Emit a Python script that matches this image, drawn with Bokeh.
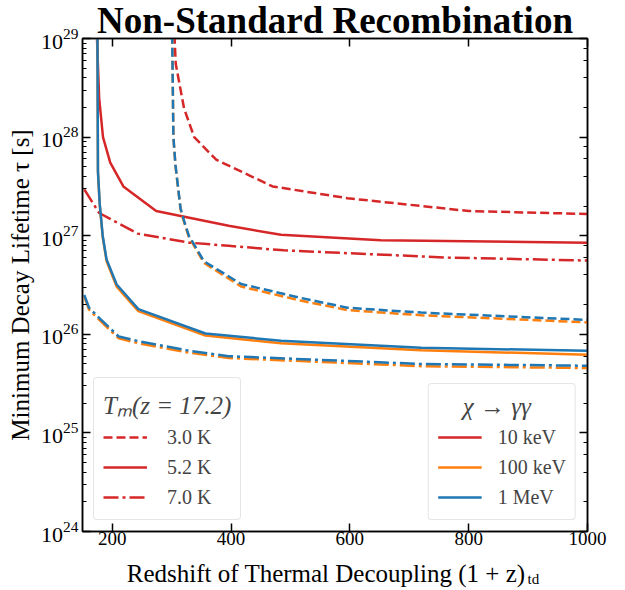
from bokeh.plotting import figure
from bokeh.layouts import column
from bokeh.models import (LinearAxis, LogAxis, FixedTicker, LogTicker, Legend, LegendItem,
                          Label, CustomJSTickFormatter, Range1d)
from bokeh.embed import file_html
from bokeh.resources import INLINE

# ---------------- data ----------------
# chi -> gamma gamma, m = 10 keV (red)
x_10keV_3K = [303, 305, 307, 321, 338, 375, 470, 596, 800, 1000]
tau_10keV_3K = [2e29, 1e29, 5.5e28, 1.95e28, 1.0e28, 5.9e27, 3.16e27, 2.4e27, 1.78e27, 1.66e27]
x_10keV_52K = [173.5, 174.4, 178, 184.5, 196.7, 218.8, 274, 396, 484, 652, 1000]
tau_10keV_52K = [2e29, 1e29, 2.5e28, 1.0e28, 5.5e27, 3.16e27, 1.78e27, 1.26e27, 1.02e27, 9.0e26, 8.5e26]
x_10keV_7K = [153, 178, 243, 330, 396, 489, 765, 1000]
tau_10keV_7K = [2.95e27, 1.7e27, 1.05e27, 8.5e26, 7.9e26, 7.1e26, 6.0e26, 5.6e26]

# m = 100 keV (orange)
x_100keV_3K = [300.5, 302, 303, 306.5, 315, 321, 329, 354.5, 417, 517, 596, 720, 1000]
tau_100keV_3K = [2e29, 3.2e28, 1.0e28, 5.1e27, 1.85e27, 1.37e27, 9.7e26, 5.3e26, 3.05e26, 2.2e26, 1.76e26, 1.56e26, 1.32e26]
x_100keV_52K = [175, 176, 179, 184, 190.5, 207.5, 244, 357, 484, 720, 1000]
tau_100keV_52K = [2e29, 4.4e27, 2.05e27, 9.7e26, 5.5e26, 3.05e26, 1.72e26, 9.7e25, 8.1e25, 6.9e25, 6.2e25]
x_100keV_7K = [153, 161, 181, 211, 245, 330, 396, 720, 1000]
tau_100keV_7K = [2.4e26, 1.78e26, 1.35e26, 9.1e25, 8.1e25, 6.5e25, 5.75e25, 4.75e25, 4.55e25]

# m = 1 MeV (blue)
x_1MeV_3K = [300.5, 302, 303, 306.5, 315, 321, 329, 354.5, 417, 517, 596, 720, 1000]
tau_1MeV_3K = [2e29, 3.2e28, 1.0e28, 5.2e27, 1.9e27, 1.41e27, 1.0e27, 5.5e26, 3.24e26, 2.34e26, 1.86e26, 1.66e26, 1.4e26]
x_1MeV_52K = [175, 176, 179, 184, 190.5, 207.5, 244, 357, 484, 720, 1000]
tau_1MeV_52K = [2e29, 4.5e27, 2.1e27, 1.0e27, 5.75e26, 3.2e26, 1.8e26, 1.02e26, 8.6e25, 7.3e25, 6.8e25]
x_1MeV_7K = [153, 161, 181, 211, 245, 330, 396, 720, 1000]
tau_1MeV_7K = [2.5e26, 1.86e26, 1.41e26, 9.5e25, 8.5e25, 6.8e25, 6.0e25, 5.0e25, 4.8e25]

temp_labels = ["3.0 K", "5.2 K", "7.0 K"]
mass_labels = ["10 keV", "100 keV", "1 MeV"]
x_ticks = [200, 400, 600, 800, 1000]

FONT = "Liberation Serif"
RED, ORANGE, BLUE = "#d62728", "#ff7f0e", "#1f77b4"
DASH, DASHDOT = "9 4", "15 4 3 4"
LW = 2.5

FRAME_L, FRAME_B = 82, 531
P_H = 553  # main figure height; the x-axis title strip fills the rest of the 590 px
p = figure(width=625, height=P_H, x_range=Range1d(150, 1000), y_range=Range1d(1e24, 1e29),
           y_axis_type="log", output_backend="svg", toolbar_location=None,
           min_border_left=FRAME_L, min_border_right=38, min_border_top=37,
           min_border_bottom=P_H - FRAME_B)
p.xgrid.visible = False
p.ygrid.visible = False
p.outline_line_color = "black"
p.outline_line_width = 1.5
p.background_fill_color = "white"
p.border_fill_color = "white"

p.title.text = "Non-Standard Recombination"
p.title.text_font = FONT
p.title.text_font_size = "37px"
p.title.text_font_style = "bold"
p.title.text_color = "black"
p.title.align = "center"
p.title.standoff = -5

xticker = FixedTicker(ticks=x_ticks, minor_ticks=[])


def style_axis(ax, size="19px"):
    ax.axis_line_width = 1.5
    ax.axis_line_color = "black"
    ax.major_tick_in = 8
    ax.major_tick_out = 0
    ax.minor_tick_in = 4
    ax.minor_tick_out = 0
    ax.major_tick_line_width = 1.5
    ax.minor_tick_line_width = 1
    ax.major_tick_line_color = "black"
    ax.minor_tick_line_color = "black"
    ax.major_label_text_font = FONT
    ax.major_label_text_font_size = size
    ax.major_label_text_color = "black"


xax = p.xaxis[0]
xax.ticker = xticker
style_axis(xax)
xax.major_label_standoff = 0

yax = p.yaxis[0]
style_axis(yax, "22px")
yax.major_label_standoff = 4
yax.axis_label = "Minimum Decay Lifetime τ [s]"
yax.axis_label_text_font = FONT
yax.axis_label_text_font_size = "25px"
yax.axis_label_text_font_style = "normal"
yax.axis_label_text_color = "black"
yax.axis_label_standoff = 4

empty = CustomJSTickFormatter(code="return ''")
top = LinearAxis(ticker=xticker, formatter=empty)
style_axis(top, "1px")
top.major_label_standoff = 0
p.add_layout(top, "above")
right = LogAxis(ticker=LogTicker(), formatter=empty)
style_axis(right, "1px")
right.major_label_standoff = 0
p.add_layout(right, "right")

# ---------------- curves ----------------
r_r3 = p.line(x_10keV_3K, tau_10keV_3K, color=RED, line_width=LW, line_dash=DASH)
r_r5 = p.line(x_10keV_52K, tau_10keV_52K, color=RED, line_width=LW)
r_r7 = p.line(x_10keV_7K, tau_10keV_7K, color=RED, line_width=LW, line_dash=DASHDOT)
r_o3 = p.line(x_100keV_3K, tau_100keV_3K, color=ORANGE, line_width=LW, line_dash=DASH)
r_o5 = p.line(x_100keV_52K, tau_100keV_52K, color=ORANGE, line_width=LW)
r_o7 = p.line(x_100keV_7K, tau_100keV_7K, color=ORANGE, line_width=LW, line_dash=DASHDOT)
r_b3 = p.line(x_1MeV_3K, tau_1MeV_3K, color=BLUE, line_width=LW, line_dash=DASH)
r_b5 = p.line(x_1MeV_52K, tau_1MeV_52K, color=BLUE, line_width=LW)
r_b7 = p.line(x_1MeV_7K, tau_1MeV_7K, color=BLUE, line_width=LW, line_dash=DASHDOT)

NB = "\u00a0"
leg_T = Legend(items=[LegendItem(label=temp_labels[0], renderers=[r_r3]),
                      LegendItem(label=temp_labels[1], renderers=[r_r5]),
                      LegendItem(label=temp_labels[2], renderers=[r_r7])],
               title="Tₘ(z = 17.2)", location="bottom_left")
leg_M = Legend(items=[LegendItem(label=mass_labels[0], renderers=[r_r5]),
                      LegendItem(label=mass_labels[1], renderers=[r_o5]),
                      LegendItem(label=mass_labels[2], renderers=[r_b5])],
               title=NB * 4 + "χ → γγ", location="bottom_right")
for leg, stand, tsize in ((leg_T, 20, "25px"), (leg_M, 16, "25px")):
    leg.label_text_font = FONT
    leg.label_text_font_size = "20px"
    leg.title_text_font = FONT
    leg.title_text_font_size = tsize
    leg.title_text_font_style = "italic"
    leg.title_standoff = 3
    leg.glyph_width = 44
    leg.glyph_height = 26
    leg.label_standoff = stand
    leg.spacing = 4
    leg.padding = 9
    leg.margin = 11
    leg.border_line_color = "#cccccc"
    leg.border_line_width = 1
    leg.background_fill_color = "white"
    leg.background_fill_alpha = 0.8
    if "border_radius" in Legend.properties():
        leg.border_radius = 4
    p.add_layout(leg, "center")

# ---------------- x-axis title strip (label with subscript) ----------------
# the column aligns this strip's frame with the main frame, so x is measured from FRAME_L
S_H = 590 - P_H
s = figure(width=625, height=S_H, x_range=Range1d(0, 1), y_range=Range1d(0, 1),
           output_backend="svg", toolbar_location=None, min_border=0,
           x_axis_location=None, y_axis_location=None)
s.outline_line_color = None
s.xgrid.visible = False
s.ygrid.visible = False
s.background_fill_color = "white"
s.border_fill_color = "white"
s.add_layout(Label(x=525 - FRAME_L, y=590 - 573, x_units="screen", y_units="screen",
                   text="Redshift of Thermal Decoupling (1 + z)", text_font=FONT,
                   text_font_size="25px", text_align="right", text_baseline="alphabetic",
                   text_color="black"))
s.add_layout(Label(x=527 - FRAME_L, y=590 - 578, x_units="screen", y_units="screen",
                   text="td", text_font=FONT, text_font_size="15px", text_align="left",
                   text_baseline="alphabetic", text_color="black"))

layout = column(p, s, spacing=0)
open("out.html", "w").write(file_html(layout, INLINE))
